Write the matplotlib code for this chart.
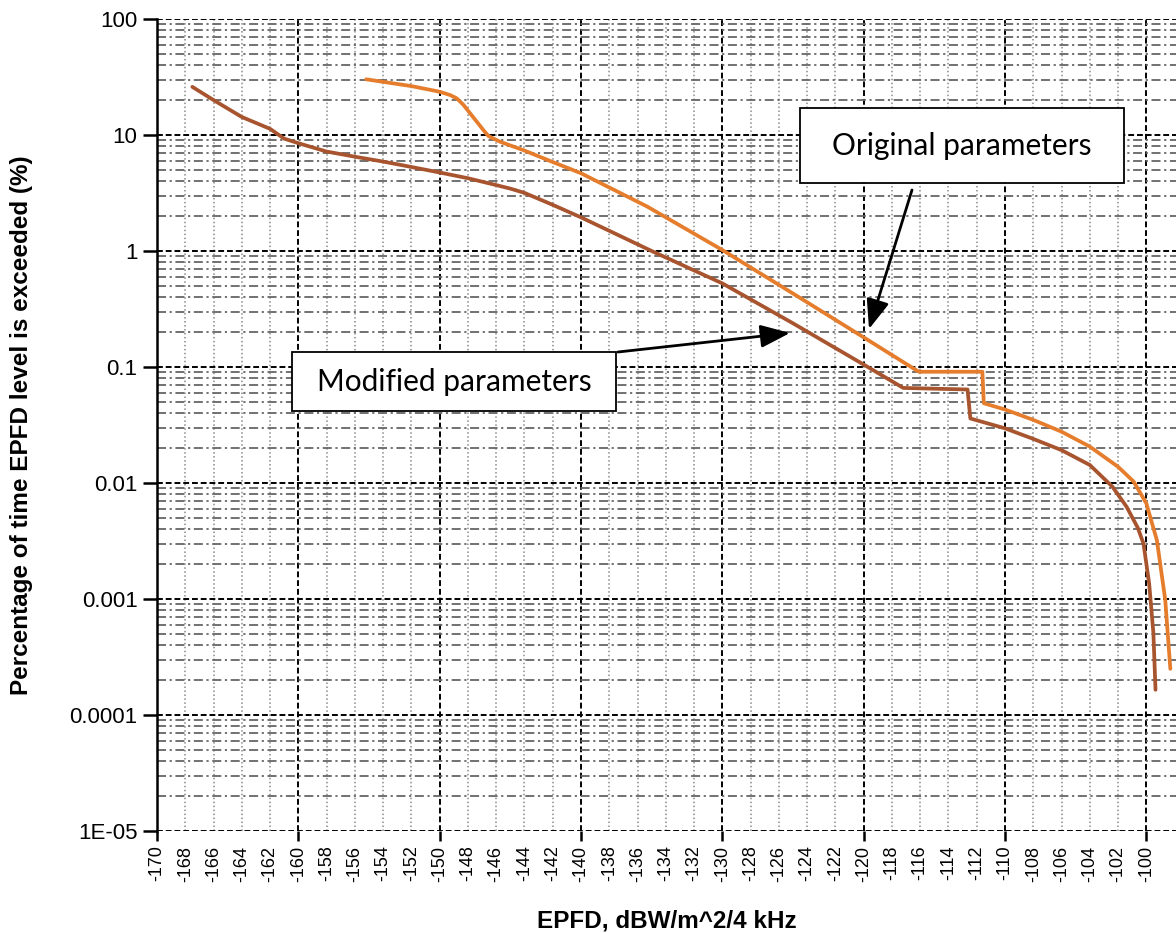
import numpy as np
import matplotlib
matplotlib.use("Agg")
import matplotlib.pyplot as plt
from matplotlib.ticker import FixedLocator, LogLocator, NullFormatter
from matplotlib.patches import Rectangle

# ---------------- data ----------------
mod_x = [-167.5, -166, -164, -162, -161, -160, -158, -156, -154, -152, -150,
         -148, -146, -145, -144, -142, -140, -135, -130, -125, -120, -117.2,
         -112.65, -112.45, -110, -108, -106, -104, -102.4, -101.4, -100.6,
         -100.2, -99.8, -99.5, -99.35]
mod_y = [26, 20, 14.3, 11.3, 9.3, 8.5, 7.2, 6.5, 5.9, 5.3, 4.75,
         4.24, 3.7, 3.45, 3.17, 2.5, 1.95, 1.0, 0.526, 0.238, 0.105, 0.066,
         0.064, 0.036, 0.0296, 0.024, 0.0192, 0.0143, 0.0093, 0.00625, 0.0041,
         0.0030, 0.00136, 0.00051, 0.000165]

orig_x = [-155.2, -152, -150, -149.26, -148.79, -148.32, -147.85, -147.37,
          -146.9, -146.55, -145.73, -144.07, -142, -140, -135.3, -130, -125,
          -119.9, -116.1, -111.6, -111.5, -110, -108, -106, -104, -102,
          -100.9, -100, -99.25, -98.66, -98.3]
orig_y = [30.2, 26.4, 23.6, 22.1, 20.7, 18.2, 15.4, 13.0,
          11.0, 9.8, 8.75, 7.4, 5.85, 4.68, 2.41, 1.02, 0.43,
          0.177, 0.091, 0.091, 0.0487, 0.043, 0.035, 0.0277, 0.0206, 0.0138,
          0.0103, 0.00668, 0.0032, 0.00098, 0.00025]

x_ticks = list(range(-170, -99, 2))
y_ticks = [100, 10, 1, 0.1, 0.01, 0.001, 0.0001, 1e-05]
y_tick_labels = ["100", "10", "1", "0.1", "0.01", "0.001", "0.0001", "1E-05"]

orange = "#E57D2C"
brown = "#A8552F"

plt.rcParams["font.family"] = ["Liberation Sans", "DejaVu Sans"]

fig = plt.figure(figsize=(11.76, 9.33), dpi=100)
ax = fig.add_axes([157 / 1176, 102 / 933, 1 - 157 / 1176, (831 - 19) / 933])

ax.plot(mod_x, mod_y, color=brown, lw=2.7, zorder=5,
        solid_capstyle="round", solid_joinstyle="round")
ax.plot(orig_x, orig_y, color=orange, lw=2.7, zorder=5,
        solid_capstyle="round", solid_joinstyle="round")

ax.set_yscale("log")
ax.set_xlim(-170, -97.9)
ax.set_ylim(1e-5, 100)

# ticks
ax.xaxis.set_major_locator(FixedLocator([t for t in x_ticks if t % 10 == 0]))
ax.xaxis.set_minor_locator(FixedLocator([t for t in x_ticks if t % 10 != 0]))
ax.set_xticklabels([str(t) for t in x_ticks if t % 10 == 0])
ax.set_xticklabels([str(t) for t in x_ticks if t % 10 != 0], minor=True)
ax.tick_params(axis="x", which="major", length=7.5, width=1.8, pad=3,
               labelsize=13, labelrotation=90, direction="out")
ax.tick_params(axis="x", which="minor", length=0, pad=10.5,
               labelsize=13, labelrotation=90)

ax.yaxis.set_major_locator(FixedLocator(y_ticks))
ax.set_yticklabels(y_tick_labels)
ax.yaxis.set_minor_locator(LogLocator(base=10, subs=np.arange(2, 10)))
ax.yaxis.set_minor_formatter(NullFormatter())
ax.tick_params(axis="y", which="major", length=10, width=1.8, pad=4,
               labelsize=16, direction="out")
ax.tick_params(axis="y", which="minor", length=0)

# grid
ax.grid(which="major", axis="both", color="black", lw=1.4,
        linestyle=(0, (3, 1.5)), zorder=1)
ax.grid(which="minor", axis="y", color="#666666", lw=1.3,
        linestyle=(0, (5, 2, 1.2, 2)), zorder=0)
ax.grid(which="minor", axis="x", color="#8a8a8a", lw=1.1,
        linestyle=(0, (1, 1.6)), zorder=0)
ax.set_axisbelow(True)

for s in ["top", "right", "bottom"]:
    ax.spines[s].set_visible(False)
ax.spines["left"].set_linewidth(1.8)

ax.set_xlabel("EPFD, dBW/m^2/4 kHz", fontsize=17.5, fontweight="bold", labelpad=20)
ax.set_ylabel("Percentage of time EPFD level is exceeded (%)", fontsize=17.5,
              fontweight="bold")
ax.yaxis.set_label_coords((33 - 157) / 1019, 0.5)

# annotation boxes
W, H = 1176, 933
for (x0, y0, x1, y1, label) in [(800, 108, 1124, 183, "Original parameters"),
                                 (292, 352, 616, 411, "Modified parameters")]:
    fig.patches.append(Rectangle((x0 / W, 1 - y1 / H), (x1 - x0) / W, (y1 - y0) / H,
                                 transform=fig.transFigure, facecolor="white",
                                 edgecolor="black", lw=1.3, zorder=10))
    fig.text((x0 + x1) / 2 / W, 1 - (y0 + y1) / 2 / H, label, ha="center",
             va="center", fontsize=21.5, family=["Lato", "DejaVu Sans"], zorder=11)

arrow = dict(arrowstyle="-|>,head_length=0.9,head_width=0.35", color="black",
             lw=2, mutation_scale=20, shrinkA=0, shrinkB=0)
ax.annotate("", xy=(869, H - 329), xytext=(912, H - 190),
            xycoords="figure pixels", textcoords="figure pixels", arrowprops=arrow)
ax.annotate("", xy=(790, H - 333), xytext=(618, H - 352),
            xycoords="figure pixels", textcoords="figure pixels", arrowprops=arrow)

fig.savefig("out.png", dpi=100)
